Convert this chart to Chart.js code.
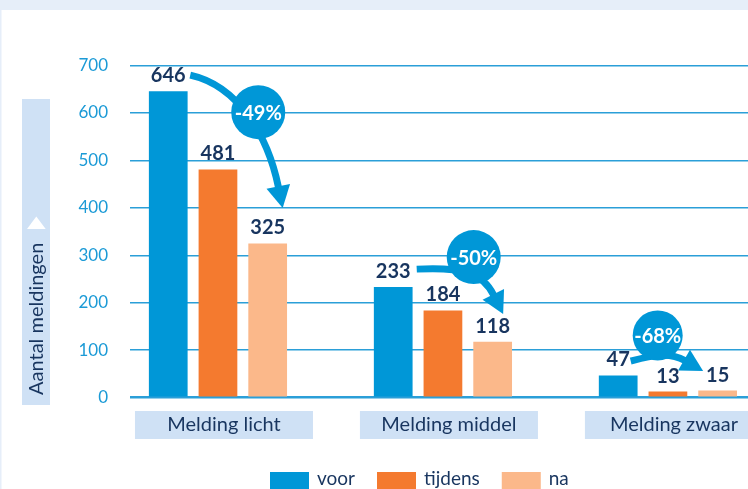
<!DOCTYPE html>
<html>
<head>
<meta charset="utf-8">
<script src="https://cdn.jsdelivr.net/npm/chart.js@4.4.1/dist/chart.umd.min.js"></script>
<style>
  html, body { margin: 0; padding: 0; background: #fff; overflow: hidden; }
  canvas { display: block; }
</style>
</head>
<body>
<canvas id="meldingenChart" width="748" height="489"></canvas>
<script>
const categories = ['Melding licht', 'Melding middel', 'Melding zwaar'];
const seriesNames = ['voor', 'tijdens', 'na'];
const voor = [646, 233, 47];
const tijdens = [481, 184, 13];
const na = [325, 118, 15];
const changes = ['-49%', '-50%', '-68%'];
const yTicks = [0, 100, 200, 300, 400, 500, 600, 700];
const axisTitle = 'Aantal meldingen';

const colors = ['#0097d7', '#f47a2f', '#fbb88a'];
const navy = '#18355f';
const tickBlue = '#1b9ad6';
const boxBlue = '#cfe1f5';
const font = 'Lato, "Open Sans", sans-serif';

// background, axis title, category boxes and legend
const decor = {
  id: 'decor',
  beforeDraw(chart) {
    const ctx = chart.ctx;
    const xs = chart.scales.x;
    ctx.save();
    ctx.fillStyle = '#fff';
    ctx.fillRect(0, 0, chart.width, chart.height);
    ctx.fillStyle = '#e6eef9';
    ctx.fillRect(0, 0, chart.width, 10);
    ctx.fillRect(0, 10, 1.5, chart.height);

    // y axis title in a box
    ctx.fillStyle = boxBlue;
    ctx.fillRect(22, 99, 28, 306);
    ctx.fillStyle = '#fff';
    ctx.beginPath();
    ctx.moveTo(27, 229);
    ctx.lineTo(45.7, 229);
    ctx.lineTo(36.3, 216.5);
    ctx.closePath();
    ctx.fill();
    ctx.save();
    ctx.translate(37, 395);
    ctx.rotate(-Math.PI / 2);
    ctx.fillStyle = navy;
    ctx.font = '20px ' + font;
    ctx.textAlign = 'left';
    ctx.textBaseline = 'middle';
    ctx.fillText(axisTitle, 0, 0);
    ctx.restore();

    // category labels
    ctx.font = '20px ' + font;
    ctx.textAlign = 'center';
    ctx.textBaseline = 'middle';
    categories.forEach((c, i) => {
      const cx = xs.getPixelForValue(i);
      ctx.fillStyle = boxBlue;
      ctx.fillRect(cx - 83, 411, 178, 28);
      ctx.fillStyle = navy;
      ctx.fillText(c, cx + 6, 425);
    });

    // legend
    ctx.font = '19px ' + font;
    ctx.textAlign = 'left';
    ctx.textBaseline = 'alphabetic';
    let lx = 270;
    seriesNames.forEach((name, i) => {
      ctx.fillStyle = colors[i];
      ctx.fillRect(lx, 472, 39, 20);
      ctx.fillStyle = navy;
      ctx.fillText(name, lx + 47, 485);
      lx += 47 + ctx.measureText(name).width + 22;
    });
    ctx.restore();
  },
  afterDatasetsDraw(chart) {
    const ctx = chart.ctx;
    const m0 = chart.getDatasetMeta(0).data;
    const m2 = chart.getDatasetMeta(2).data;
    // arrow shapes, offsets from the top of the 'voor' and 'na' bars
    const geom = [
      { s: [22, -16], sd: [1, 0.22], k1: 50, t: [15, -35.5], d: [4.7, 23], k2: 50, c: [90, 21], r: 27 },
      { s: [23.5, -18], sd: [1, -0.05], k1: 45, t: [10.5, -27.7], d: [8.5, 17], k2: 25, c: [80.5, -30], r: 27 },
      { s: [12.5, -14.4], sd: [1, -0.25], k1: 20, t: [-14.5, -19.6], d: [17.5, 10], k2: 18, c: [39.5, -40], r: 25 }
    ];
    ctx.save();
    geom.forEach((g, i) => {
      const a = m0[i], b = m2[i];
      const S = [a.x + g.s[0], a.y + g.s[1]];
      const T = [b.x + g.t[0], b.y + g.t[1]];
      const dl = Math.hypot(g.d[0], g.d[1]);
      const d = [g.d[0] / dl, g.d[1] / dl];
      const head = 22, hw = 12;
      const B = [T[0] - d[0] * head, T[1] - d[1] * head];
      const sl = Math.hypot(g.sd[0], g.sd[1]);
      const C1 = [S[0] + g.sd[0] / sl * g.k1, S[1] + g.sd[1] / sl * g.k1];
      const C2 = [B[0] - d[0] * g.k2, B[1] - d[1] * g.k2];
      ctx.strokeStyle = colors[0];
      ctx.fillStyle = colors[0];
      ctx.lineWidth = 7;
      ctx.beginPath();
      ctx.moveTo(S[0], S[1]);
      ctx.bezierCurveTo(C1[0], C1[1], C2[0], C2[1], B[0] + d[0], B[1] + d[1]);
      ctx.stroke();
      ctx.beginPath();
      ctx.moveTo(T[0], T[1]);
      ctx.lineTo(B[0] - d[1] * hw, B[1] + d[0] * hw);
      ctx.lineTo(B[0] + d[1] * hw, B[1] - d[0] * hw);
      ctx.closePath();
      ctx.fill();
      const cx = a.x + g.c[0], cy = a.y + g.c[1];
      ctx.beginPath();
      ctx.arc(cx, cy, g.r, 0, Math.PI * 2);
      ctx.fill();
      ctx.fillStyle = '#fff';
      ctx.font = 'bold 20px ' + font;
      ctx.textAlign = 'center';
      ctx.textBaseline = 'middle';
      ctx.fillText(changes[i], cx, cy + 1);
    });

    // value labels above the bars
    ctx.fillStyle = navy;
    ctx.font = 'bold 20px ' + font;
    ctx.textAlign = 'center';
    ctx.textBaseline = 'alphabetic';
    chart.data.datasets.forEach((ds, di) => {
      chart.getDatasetMeta(di).data.forEach((bar, i) => {
        ctx.fillText(String(ds.data[i].y), bar.x, bar.y - 9);
      });
    });
    ctx.restore();
  }
};

const seriesData = [voor, tijdens, na];

new Chart(document.getElementById('meldingenChart').getContext('2d'), {
  type: 'bar',
  data: {
    datasets: seriesNames.map((name, i) => ({
      label: name,
      data: seriesData[i].map((v, j) => ({ x: j, y: v })),
      backgroundColor: colors[i],
      borderWidth: 0,
      categoryPercentage: 0.663,
      barPercentage: 0.779
    }))
  },
  options: {
    responsive: false,
    animation: false,
    events: [],
    layout: { padding: { top: 65.5, bottom: 91.3, left: 0, right: 0 } },
    plugins: {
      legend: { display: false },
      tooltip: { enabled: false }
    },
    scales: {
      x: {
        type: 'linear',
        min: -0.391,
        max: 2.356,
        offset: false,
        display: false,
        afterBuildTicks: (s) => { s.ticks = categories.map((c, i) => ({ value: i })); }
      },
      y: {
        min: 0,
        max: 700,
        afterBuildTicks: (s) => { s.ticks = yTicks.map(v => ({ value: v })); },
        afterFit: (s) => { s.width = 130; },
        border: { display: false },
        grid: {
          color: '#2b9fd8',
          lineWidth: (c) => (c.tick && c.tick.value === 0 ? 2.5 : 1.5),
          drawTicks: false
        },
        ticks: {
          color: tickBlue,
          font: { family: font, size: 17 },
          padding: 22
        }
      }
    }
  },
  plugins: [decor]
});
</script>
</body>
</html>
